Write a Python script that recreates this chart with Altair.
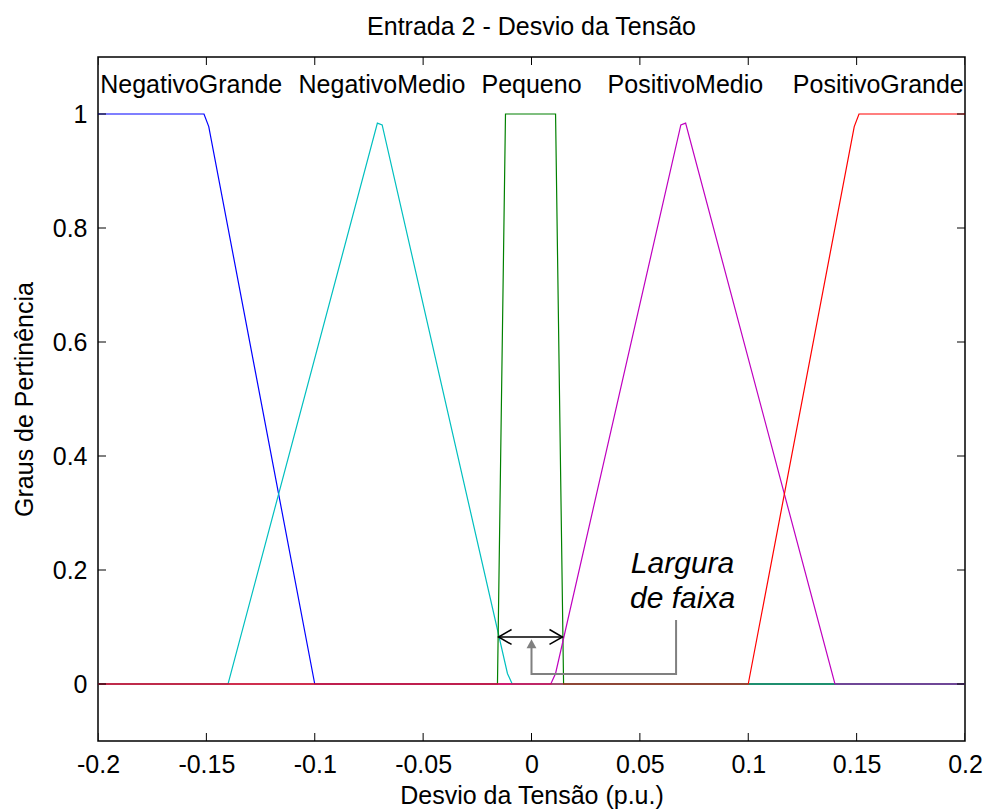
import altair as alt
import pandas as pd

# ---------------- data ----------------
x_ticks = [-0.2, -0.15, -0.1, -0.05, 0.0, 0.05, 0.1, 0.15, 0.2]
y_ticks = [0.0, 0.2, 0.4, 0.6, 0.8, 1.0]

mf_names = ["NegativoGrande", "NegativoMedio", "Pequeno", "PositivoMedio", "PositivoGrande"]
mf_colors = ["#0000ff", "#00bfbf", "#008000", "#bf00bf", "#ff0000"]

ng_x = [-0.2, -0.1511, -0.1489, -0.1, 0.2]
ng_y = [1.0, 1.0, 0.978, 0.0, 0.0]
nm_x = [-0.2, -0.14, -0.0711, -0.0689, -0.0111, -0.0089, 0.2]
nm_y = [0.0, 0.0, 0.984, 0.981, 0.0185, 0.0, 0.0]
pq_x = [-0.2, -0.0157, -0.012, 0.0111, 0.0148, 0.2]
pq_y = [0.0, 0.0, 1.0, 1.0, 0.0, 0.0]
pm_x = [-0.2, 0.0089, 0.0111, 0.0689, 0.0711, 0.14, 0.2]
pm_y = [0.0, 0.0, 0.0185, 0.981, 0.984, 0.0, 0.0]
pg_x = [-0.2, 0.1, 0.1489, 0.1511, 0.2]
pg_y = [0.0, 0.0, 0.978, 1.0, 1.0]

label_x = [-0.157, -0.069, 0.0, 0.071, 0.160]
label_y = [1.037, 1.037, 1.037, 1.037, 1.037]

note_lines = ["Largura", "de faixa"]
note_x = [0.0697, 0.0697]
note_y = [0.194, 0.133]

band_x = [-0.0152, 0.0143]
band_y = [0.0825, 0.0825]

gray_x = [0.0667, 0.0667, 0.0, 0.0]
gray_y = [0.1123, 0.0175, 0.0175, 0.065]
gray_tip_x = [0.0]
gray_tip_y = [0.0784]

# ---------------- tables ----------------
series = [(mf_names[0], ng_x, ng_y), (mf_names[1], nm_x, nm_y), (mf_names[2], pq_x, pq_y),
          (mf_names[3], pm_x, pm_y), (mf_names[4], pg_x, pg_y)]
rows = []
for name, xs, ys in series:
    for i, (a, b) in enumerate(zip(xs, ys)):
        rows.append({"mf": name, "x": a, "y": b, "i": i})
mf_df = pd.DataFrame(rows)

labels_df = pd.DataFrame({"mf": mf_names, "x": label_x, "y": label_y})
note_df = pd.DataFrame({"t": note_lines, "x": note_x, "y": note_y})
band_df = pd.DataFrame({"x": band_x, "y": band_y})
band_left = band_df.iloc[[0]]
band_right = band_df.iloc[[1]]
gray_df = pd.DataFrame({"x": gray_x, "y": gray_y, "i": list(range(len(gray_x)))})
gray_tip_df = pd.DataFrame({"x": gray_tip_x, "y": gray_tip_y})
xt_df = pd.DataFrame({"v": x_ticks})
yt_df = pd.DataFrame({"v": y_ticks})

W, H = 867, 684
FONT = "Liberation Sans"
FS = 25

xscale = alt.Scale(domain=[-0.2, 0.2], nice=False, zero=False)
yscale = alt.Scale(domain=[-0.1, 1.1], nice=False, zero=False)

minus_fix = "replace(format(datum.value, '~g'), '\u2212', '-')"

xaxis = alt.Axis(values=x_ticks, labelExpr=minus_fix, title="Desvio da Tensão (p.u.)",
                 ticks=False, domain=False, grid=False, labelPadding=11,
                 labelFont=FONT, labelFontSize=FS, labelColor="black",
                 titleFont=FONT, titleFontSize=FS, titleFontWeight="normal", titleColor="black",
                 titleBaseline="alphabetic", titleY=62, labelFlush=False)
yaxis = alt.Axis(values=y_ticks, labelExpr=minus_fix, title="Graus de Pertinência",
                 ticks=False, domain=False, grid=False, labelPadding=11,
                 labelFont=FONT, labelFontSize=FS, labelColor="black",
                 titleFont=FONT, titleFontSize=FS, titleFontWeight="normal", titleColor="black",
                 titleBaseline="alphabetic", titleX=-66, titleY=H / 2, titleAngle=270)

color = alt.Color("mf:N", scale=alt.Scale(domain=mf_names, range=mf_colors), legend=None)

lines = alt.Chart(mf_df).mark_line(strokeWidth=1.2, clip=True).encode(
    x=alt.X("x:Q", scale=xscale, axis=xaxis),
    y=alt.Y("y:Q", scale=yscale, axis=yaxis),
    color=color,
    order="i:Q",
)

labels = alt.Chart(labels_df).mark_text(font=FONT, fontSize=FS, color="black",
                                        align="center", baseline="alphabetic").encode(
    x=alt.X("x:Q", scale=xscale), y=alt.Y("y:Q", scale=yscale), text="mf:N")

note = alt.Chart(note_df).mark_text(font=FONT, fontSize=30, fontStyle="italic", color="black",
                                    align="center", baseline="alphabetic").encode(
    x=alt.X("x:Q", scale=xscale), y=alt.Y("y:Q", scale=yscale), text="t:N")

band_line = alt.Chart(band_df).mark_line(color="black", strokeWidth=1.5).encode(
    x=alt.X("x:Q", scale=xscale), y=alt.Y("y:Q", scale=yscale))
head_l = alt.Chart(band_left).mark_point(shape="M2,-1.15L0,0L2,1.15", filled=False, size=169,
                                         color="black", strokeWidth=1.5, opacity=1).encode(
    x=alt.X("x:Q", scale=xscale), y=alt.Y("y:Q", scale=yscale))
head_r = alt.Chart(band_right).mark_point(shape="M-2,-1.15L0,0L-2,1.15", filled=False, size=169,
                                          color="black", strokeWidth=1.5, opacity=1).encode(
    x=alt.X("x:Q", scale=xscale), y=alt.Y("y:Q", scale=yscale))

gray_line = alt.Chart(gray_df).mark_line(color="#808080", strokeWidth=2).encode(
    x=alt.X("x:Q", scale=xscale), y=alt.Y("y:Q", scale=yscale), order="i:Q")
gray_tip = alt.Chart(gray_tip_df).mark_point(shape="M0,0L-0.55,1L0.55,1Z", filled=True, size=324,
                                             color="#808080", opacity=1, strokeWidth=0).encode(
    x=alt.X("x:Q", scale=xscale), y=alt.Y("y:Q", scale=yscale))

tick_style = dict(color="black", thickness=1, size=16, clip=True, opacity=1)
xt_bottom = alt.Chart(xt_df).mark_tick(orient="vertical", **tick_style).encode(
    x=alt.X("v:Q", scale=xscale), y=alt.value(H))
xt_top = alt.Chart(xt_df).mark_tick(orient="vertical", **tick_style).encode(
    x=alt.X("v:Q", scale=xscale), y=alt.value(0))
yt_left = alt.Chart(yt_df).mark_tick(orient="horizontal", **tick_style).encode(
    y=alt.Y("v:Q", scale=yscale), x=alt.value(0))
yt_right = alt.Chart(yt_df).mark_tick(orient="horizontal", **tick_style).encode(
    y=alt.Y("v:Q", scale=yscale), x=alt.value(W))

chart = alt.layer(
    lines, labels, note, band_line, head_l, head_r, gray_line, gray_tip,
    xt_bottom, xt_top, yt_left, yt_right,
).properties(
    width=W, height=H,
    title=alt.TitleParams("Entrada 2 - Desvio da Tensão", font=FONT, fontSize=FS,
                          fontWeight="normal", color="black", anchor="middle",
                          baseline="alphabetic", offset=24, dy=27, frame="group"),
    autosize=alt.AutoSizeParams(type="none"),
    padding={"left": 98, "top": 57, "right": 20, "bottom": 71},
    background="white",
).configure_view(stroke="black", strokeWidth=1.5)

chart.save("out.html", embed_options={"renderer": "svg", "actions": False})
